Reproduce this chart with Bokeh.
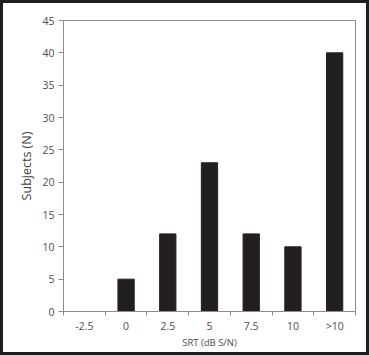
from bokeh.plotting import figure
from bokeh.models import FixedTicker, ColumnDataSource
from bokeh.layouts import column
from bokeh.embed import file_html
from bokeh.resources import INLINE

categories = ["-2.5", "0", "2.5", "5", "7.5", "10", ">10"]
subjects = [0, 5, 12, 23, 12, 10, 40]
y_ticks = [0, 5, 10, 15, 20, 25, 30, 35, 40, 45]

xpos = list(range(len(categories)))
src = ColumnDataSource(dict(x=xpos, top=subjects))

FONT = "Open Sans"
TXT = "#4d4d4d"
AX = "#8c8c8c"
B = 3  # outer border thickness

p = figure(width=369 - 2 * B, height=355 - 2 * B, output_backend="svg", toolbar_location=None,
           x_range=(-0.5, len(categories) - 0.5), y_range=(0, 45),
           min_border_left=63 - B, min_border_right=14 - B,
           min_border_top=20 - B, min_border_bottom=44 - B)
p.vbar(x="x", top="top", width=0.39, source=src, fill_color="#231f20", line_color="#231f20")

p.grid.visible = False
p.outline_line_color = AX
p.outline_line_width = 1

# y axis
p.yaxis.ticker = FixedTicker(ticks=y_ticks)
p.yaxis.minor_tick_line_color = None
p.yaxis.major_tick_in = 0
p.yaxis.major_tick_out = 5
p.yaxis.axis_line_color = AX
p.yaxis.major_tick_line_color = AX
p.yaxis.major_label_text_font = FONT
p.yaxis.major_label_text_font_size = "10.5px"
p.yaxis.major_label_text_color = TXT
p.yaxis.major_label_standoff = 4
p.yaxis.axis_label = "Subjects (N)"
p.yaxis.axis_label_text_font = FONT
p.yaxis.axis_label_text_font_size = "12.5px"
p.yaxis.axis_label_text_font_style = "normal"
p.yaxis.axis_label_text_color = "#404040"
p.yaxis.axis_label_standoff = 4

# x axis
p.xaxis.ticker = FixedTicker(ticks=xpos, minor_ticks=[i - 0.5 for i in range(len(categories) + 1)])
p.xaxis.major_label_overrides = {i: c for i, c in enumerate(categories)}
p.xaxis.major_tick_line_color = None
p.xaxis.major_tick_in = 0
p.xaxis.major_tick_out = 4
p.xaxis.minor_tick_in = 0
p.xaxis.minor_tick_out = 4
p.xaxis.minor_tick_line_color = AX
p.xaxis.axis_line_color = AX
p.xaxis.major_label_text_font = FONT
p.xaxis.major_label_text_font_size = "10.5px"
p.xaxis.major_label_text_color = TXT
p.xaxis.major_label_standoff = 3
p.xaxis.axis_label = "SRT (dB S/N)"
p.xaxis.axis_label_text_font = FONT
p.xaxis.axis_label_text_font_size = "9.5px"
p.xaxis.axis_label_text_font_style = "normal"
p.xaxis.axis_label_text_color = TXT
p.xaxis.axis_label_standoff = 0

layout = column(p, styles={"border": f"{B}px solid #1e1e1e"})

open("out.html", "w").write(file_html(layout, INLINE))
